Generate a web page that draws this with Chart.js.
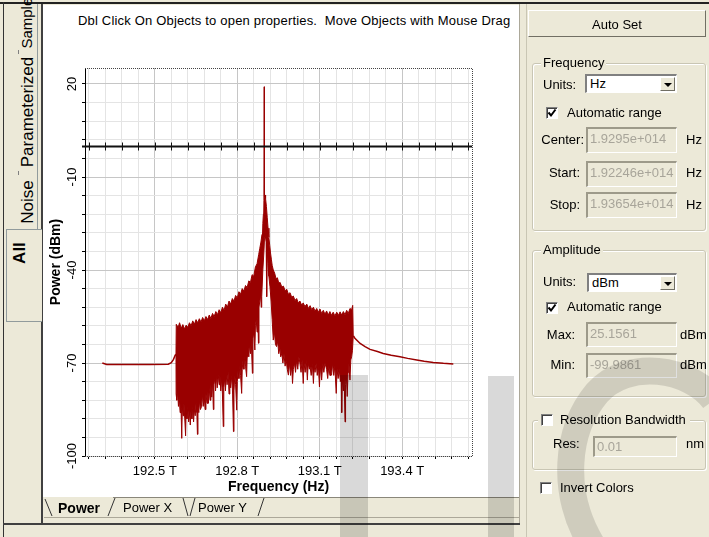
<!DOCTYPE html>
<html lang="en">
<head>
<meta charset="UTF-8">
<title>Optical Spectrum Analyzer</title>
<script src="https://cdn.jsdelivr.net/npm/chart.js"></script>
<style>
  body {
    margin: 0;
    width: 709px;
    height: 537px;
    overflow: hidden;
    position: relative;
    background: #ece9d8;
    font-family: "Liberation Sans", Arial, sans-serif;
    font-size: 13px;
    color: #000;
  }
  .abs { position: absolute; }
  .vt {
    position: absolute;
    height: 20px;
    line-height: 20px;
    text-align: center;
    white-space: nowrap;
    transform: rotate(-90deg);
    font-size: 17px;
  }
  .lbl { position: absolute; line-height: 16px; white-space: nowrap; }
  .group {
    position: absolute;
    border: 1px solid #c9c6b4;
    border-radius: 3px;
    box-shadow: inset 1px 1px 0 #fff, 1px 1px 0 #fff;
  }
  .legend {
    position: absolute;
    background: #ece9d8;
    padding: 0 2px;
    line-height: 16px;
  }
  .select {
    position: absolute;
    background: #fff;
    border-top: 2px solid #808080;
    border-left: 2px solid #808080;
    border-bottom: 1px solid #fff;
    border-right: 1px solid #fff;
    box-sizing: border-box;
    padding-left: 3px;
    line-height: 16px;
  }
  .select .btn {
    position: absolute;
    right: 1px; top: 1px; bottom: 1px;
    width: 15px;
    background: #ece9d8;
    border: 1px solid;
    border-color: #fff #716f64 #716f64 #fff;
    box-sizing: border-box;
  }
  .select .btn::after {
    content: "";
    position: absolute;
    left: 3px; top: 5px;
    border-left: 4px solid transparent;
    border-right: 4px solid transparent;
    border-top: 4px solid #000;
  }
  .field {
    position: absolute;
    box-sizing: border-box;
    border-top: 2px solid #9d9a8a;
    border-left: 2px solid #9d9a8a;
    border-bottom: 1px solid #fff;
    border-right: 1px solid #fff;
    color: #a8a59a;
    padding: 2px 0 0 2px;
    line-height: 16px;
  }
  .check {
    position: absolute;
    width: 12px; height: 12px;
    background: #fff;
    box-sizing: border-box;
    border-top: 1px solid #808080;
    border-left: 1px solid #808080;
    border-bottom: 1px solid #fff;
    border-right: 1px solid #fff;
    box-shadow: inset 1px 1px 0 #404040;
  }
  #plotPanel {
    left: 43px; top: 5px; width: 476px; height: 492px;
    background: #fff;
  }
  #chartBox { left: 44px; top: 8px; width: 476px; height: 489px; }
</style>
</head>
<body>
  <!-- window frame lines -->
  <div class="abs" style="left:0;top:2px;width:709px;height:2px;background:#222"></div>
  <div class="abs" style="left:3px;top:2px;width:1px;height:535px;background:#333"></div>
  <div class="abs" id="plotPanel"></div>
  <div class="abs" style="left:41px;top:4px;width:2px;height:521px;background:#404040"></div>
  <div class="abs" style="left:37px;top:4px;width:1px;height:225px;background:#919b9c"></div>
  <div class="abs" style="left:519px;top:4px;width:1px;height:521px;background:#aca899"></div>
  <div class="abs" style="left:526px;top:4px;width:1px;height:533px;background:#c9c6b4"></div>

  <!-- left vertical tabs -->
  <div class="abs" style="left:6px;top:229px;width:35px;height:91px;border:1px solid #919b9c;border-right:none;background:#ece9d8"></div>
  <div class="vt" style="left:-8px;top:9px;width:70px;font-size:15px">Sampled</div>
  <div class="vt" style="left:-32px;top:102px;width:120px">Parameterized</div>
  <div class="vt" style="left:-2px;top:192px;width:60px">Noise</div>
  <div class="vt" style="left:-10px;top:243px;width:60px;font-weight:bold">All</div>
  <div class="abs" style="left:18px;top:50px;width:1px;height:4px;background:#808080"></div>
  <div class="abs" style="left:18px;top:171px;width:1px;height:4px;background:#808080"></div>

  <div class="lbl" style="left:78px;top:13px;white-space:pre;letter-spacing:0.18px">Dbl Click On Objects to open properties.  Move Objects with Mouse Drag</div>

  <div class="abs" id="chartBox"><canvas id="spectrumChart"></canvas></div>

  <!-- bottom tabs -->
  <svg class="abs" style="left:0;top:0" width="709" height="537">
    <line x1="113" y1="497.5" x2="519" y2="497.5" stroke="#8a877a" />
    <line x1="44" y1="517.5" x2="519" y2="517.5" stroke="#aca899" />
    <line x1="3" y1="524" x2="520" y2="524" stroke="#404040" stroke-width="2" />
    <line x1="45" y1="499" x2="52" y2="516" stroke="#333" />
    <line x1="108" y1="516" x2="115" y2="498" stroke="#333" />
    <line x1="183" y1="498" x2="188" y2="516" stroke="#333" />
    <line x1="190" y1="516" x2="195" y2="498" stroke="#333" />
    <line x1="258" y1="516" x2="264" y2="498" stroke="#333" />
  </svg>
  <div class="lbl" style="left:58px;top:500px;font-weight:bold;font-size:14px">Power</div>
  <div class="lbl" style="left:123px;top:500px">Power X</div>
  <div class="lbl" style="left:198px;top:500px">Power Y</div>

  <!-- right control panel -->
  <div class="abs" style="left:528px;top:10px;width:178px;height:27px;box-sizing:border-box;border:1px solid;border-color:#fff #716f64 #716f64 #fff;text-align:center;line-height:27px">Auto Set</div>

  <div class="group" style="left:532px;top:63px;width:172px;height:166px"></div>
  <div class="legend" style="left:541px;top:55px">Frequency</div>
  <div class="lbl" style="left:543px;top:77px">Units:</div>
  <div class="select" style="left:585px;top:74px;width:92px;height:19px">Hz<div class="btn"></div></div>
  <div class="check" style="left:546px;top:107px">
    <svg width="10" height="10" style="position:absolute;left:0;top:0"><polyline points="1.5,4.5 4,7.5 8.5,1.5" fill="none" stroke="#000" stroke-width="2"/></svg>
  </div>
  <div class="lbl" style="left:567px;top:105px">Automatic range</div>
  <div class="lbl" style="left:525px;top:132px;width:59px;text-align:right">Center:</div>
  <div class="field" style="left:586px;top:127px;width:91px;height:26px">1.9295e+014</div>
  <div class="lbl" style="left:686px;top:132px">Hz</div>
  <div class="lbl" style="left:525px;top:165px;width:55px;text-align:right">Start:</div>
  <div class="field" style="left:586px;top:161px;width:91px;height:26px">1.92246e+014</div>
  <div class="lbl" style="left:686px;top:165px">Hz</div>
  <div class="lbl" style="left:525px;top:197px;width:55px;text-align:right">Stop:</div>
  <div class="field" style="left:586px;top:192px;width:91px;height:26px">1.93654e+014</div>
  <div class="lbl" style="left:686px;top:197px">Hz</div>

  <div class="group" style="left:532px;top:250px;width:172px;height:145px"></div>
  <div class="legend" style="left:541px;top:242px">Amplitude</div>
  <div class="lbl" style="left:543px;top:274px">Units:</div>
  <div class="select" style="left:587px;top:273px;width:90px;height:19px">dBm<div class="btn"></div></div>
  <div class="check" style="left:546px;top:302px">
    <svg width="10" height="10" style="position:absolute;left:0;top:0"><polyline points="1.5,4.5 4,7.5 8.5,1.5" fill="none" stroke="#000" stroke-width="2"/></svg>
  </div>
  <div class="lbl" style="left:567px;top:299px">Automatic range</div>
  <div class="lbl" style="left:525px;top:327px;width:50px;text-align:right">Max:</div>
  <div class="field" style="left:586px;top:322px;width:91px;height:25px">25.1561</div>
  <div class="lbl" style="left:680px;top:327px">dBm</div>
  <div class="lbl" style="left:525px;top:357px;width:50px;text-align:right">Min:</div>
  <div class="field" style="left:586px;top:353px;width:91px;height:25px">-99.9861</div>
  <div class="lbl" style="left:680px;top:357px">dBm</div>

  <div class="group" style="left:532px;top:420px;width:172px;height:48px"></div>
  <div class="abs" style="left:538px;top:412px;width:152px;height:16px;background:#ece9d8"></div>
  <div class="check" style="left:541px;top:414px"></div>
  <div class="lbl" style="left:560px;top:412px">Resolution Bandwidth</div>
  <div class="lbl" style="left:553px;top:436px">Res:</div>
  <div class="field" style="left:593px;top:436px;width:84px;height:21px;padding-top:1px">0.01</div>
  <div class="lbl" style="left:686px;top:436px">nm</div>

  <div class="check" style="left:540px;top:482px"></div>
  <div class="lbl" style="left:560px;top:480px">Invert Colors</div>

  <!-- faint watermark strokes -->
  <svg class="abs" style="left:0;top:0;pointer-events:none" width="709" height="537">
    <rect x="340" y="375" width="28" height="162" fill="rgba(0,0,0,0.15)" />
    <rect x="488" y="376" width="26" height="161" fill="rgba(0,0,0,0.15)" />
    <path d="M 714 400 C 690 368, 628 358, 597 393 C 566 430, 560 492, 592 545" fill="none" stroke="rgba(0,0,0,0.12)" stroke-width="27" />
  </svg>

<script>
  // frequencies in THz, power in dBm
  const leftFreq = [192.309, 192.325, 192.400, 192.480, 192.549, 192.560, 192.568, 192.574, 192.577];
  const leftPow  = [-70.0, -70.5, -70.5, -70.5, -70.4, -69.9, -68.8, -67.5, -67.0];

  const upperFreq = [
    192.577, 192.578, 192.585, 192.590, 192.596, 192.602, 192.608, 192.614, 192.620, 192.626,
    192.632, 192.638, 192.644, 192.650, 192.656, 192.662, 192.668, 192.674, 192.680, 192.686,
    192.692, 192.698, 192.704, 192.710, 192.716, 192.722, 192.728, 192.734, 192.740, 192.746,
    192.752, 192.758, 192.764, 192.770, 192.776, 192.782, 192.788, 192.794, 192.800, 192.806,
    192.812, 192.818, 192.824, 192.830, 192.836, 192.842, 192.848, 192.854, 192.860, 192.866,
    192.872, 192.878, 192.882, 192.886, 192.890, 192.893, 192.895, 192.897, 192.898, 192.899,
    192.901, 192.903, 192.906, 192.909, 192.912, 192.915, 192.918, 192.921, 192.924, 192.927,
    192.931, 192.936, 192.941, 192.946, 192.951, 192.956, 192.962, 192.968, 192.974, 192.980,
    192.986, 192.992, 192.998, 193.004, 193.010, 193.016, 193.022, 193.028, 193.034, 193.040,
    193.046, 193.053, 193.059, 193.065, 193.071, 193.077, 193.083, 193.089, 193.095, 193.101,
    193.107, 193.113, 193.119, 193.125, 193.131, 193.137, 193.143, 193.149, 193.155, 193.162,
    193.168, 193.174, 193.180, 193.186, 193.192, 193.198, 193.204, 193.210, 193.216, 193.220,
    193.222
  ];
  const upperPow = [
    -67.0, -57.5, -58.5, -57.0, -58.8, -57.6, -59.0, -57.8, -58.5, -57.0,
    -58.0, -56.4, -57.5, -56.0, -57.0, -55.7, -56.8, -55.3, -56.4, -55.0,
    -56.0, -54.5, -55.6, -54.0, -55.0, -53.4, -54.4, -52.8, -53.8, -52.0,
    -53.0, -51.0, -52.0, -50.0, -51.0, -49.2, -50.0, -48.2, -49.0, -47.0,
    -47.8, -46.0, -46.8, -45.0, -45.6, -43.5, -44.0, -41.5, -42.0, -39.0,
    -38.0, -35.0, -33.0, -31.0, -28.5, -25.0, -22.0, -17.5, 19.1, -16.5,
    -15.8, -17.0, -19.5, -23.0, -26.5, -29.5, -32.0, -34.5, -36.5, -38.5,
    -40.0, -41.0, -42.8, -42.5, -44.2, -44.0, -45.5, -45.2, -46.7, -46.2,
    -47.8, -47.3, -48.8, -48.4, -49.8, -49.2, -50.6, -50.0, -51.3, -50.6,
    -51.8, -51.0, -52.4, -51.5, -52.8, -52.0, -53.3, -52.4, -53.6, -52.6,
    -54.0, -53.0, -54.3, -53.2, -54.5, -53.4, -54.6, -53.6, -54.8, -53.6,
    -54.6, -53.5, -54.5, -53.4, -54.4, -53.0, -54.0, -52.4, -52.8, -51.4,
    -61.2
  ];

  const lowerFreq = [
    192.577, 192.5775, 192.580, 192.583, 192.586, 192.589, 192.592, 192.595, 192.598, 192.600,
    192.603, 192.606, 192.609, 192.612, 192.614, 192.617, 192.620, 192.623, 192.626, 192.629,
    192.632, 192.635, 192.638, 192.641, 192.644, 192.647, 192.650, 192.653, 192.655, 192.657,
    192.660, 192.663, 192.666, 192.670, 192.673, 192.676, 192.680, 192.683, 192.686, 192.690,
    192.693, 192.695, 192.698, 192.701, 192.704, 192.707, 192.710, 192.713, 192.715, 192.718,
    192.721, 192.724, 192.727, 192.731, 192.734, 192.737, 192.740, 192.743, 192.746, 192.749,
    192.751, 192.754, 192.757, 192.760, 192.763, 192.767, 192.770, 192.773, 192.776, 192.780,
    192.783, 192.786, 192.788, 192.791, 192.794, 192.798, 192.800, 192.803, 192.806, 192.809,
    192.812, 192.816, 192.818, 192.821, 192.824, 192.827, 192.830, 192.834, 192.836, 192.839,
    192.842, 192.845, 192.848, 192.851, 192.855, 192.857, 192.860, 192.864, 192.866, 192.869,
    192.872, 192.875, 192.877, 192.879, 192.882, 192.885, 192.887, 192.889, 192.893, 192.897,
    192.899, 192.902, 192.905, 192.907, 192.909, 192.912, 192.915, 192.919, 192.923, 192.927,
    192.931, 192.935, 192.939, 192.943, 192.947, 192.951, 192.955, 192.958, 192.962, 192.966,
    192.970, 192.974, 192.978, 192.982, 192.986, 192.990, 192.994, 192.998, 193.001, 193.004,
    193.008, 193.012, 193.016, 193.020, 193.024, 193.028, 193.032, 193.036, 193.040, 193.043,
    193.047, 193.051, 193.055, 193.058, 193.062, 193.065, 193.069, 193.073, 193.077, 193.080,
    193.083, 193.087, 193.091, 193.095, 193.099, 193.102, 193.107, 193.111, 193.115, 193.119,
    193.125, 193.129, 193.133, 193.137, 193.143, 193.147, 193.151, 193.155, 193.160, 193.163,
    193.167, 193.171, 193.175, 193.178, 193.180, 193.182, 193.186, 193.189, 193.192, 193.194,
    193.197, 193.200, 193.203, 193.206, 193.210, 193.213, 193.216, 193.219, 193.222
  ];
  const lowerPow = [
    -67.0, -80.0, -82.0, -79.0, -84.0, -81.0, -86.0, -83.0, -94.3, -84.0,
    -87.0, -83.0, -88.0, -93.5, -85.0, -88.0, -84.0, -89.0, -86.0, -90.0,
    -85.0, -88.0, -84.0, -89.0, -85.0, -87.0, -83.0, -86.0, -93.0, -84.0,
    -86.0, -82.0, -85.0, -84.0, -80.0, -84.0, -81.0, -85.0, -80.0, -83.0,
    -79.0, -83.0, -78.0, -82.0, -77.0, -81.0, -76.0, -85.0, -77.0, -75.0,
    -79.0, -74.0, -78.0, -73.9, -77.0, -74.0, -79.0, -75.0, -80.0, -90.5,
    -78.0, -75.0, -79.0, -74.0, -77.0, -73.0, -80.0, -75.0, -78.0, -74.0,
    -80.0, -92.1, -79.0, -74.0, -77.0, -85.2, -76.0, -72.0, -75.0, -71.0,
    -74.0, -79.8, -72.0, -69.0, -72.0, -68.0, -71.0, -74.4, -68.0, -65.0,
    -68.0, -64.0, -67.0, -63.0, -73.3, -62.0, -60.0, -65.8, -58.0, -56.0,
    -60.0, -55.0, -63.6, -52.0, -50.0, -48.0, -52.0, -48.6, -40.0, -34.0,
    -30.0, -29.0, -31.0, -48.6, -34.0, -38.0, -42.0, -45.4, -50.0, -56.0,
    -62.6, -60.0, -64.0, -64.7, -63.0, -67.0, -65.0, -68.0, -66.9, -70.0,
    -67.0, -71.0, -69.0, -72.0, -73.9, -70.0, -74.0, -71.0, -76.6, -72.0,
    -70.0, -73.0, -69.0, -72.0, -68.0, -70.1, -73.0, -69.0, -76.6, -70.0,
    -73.0, -69.0, -75.5, -70.0, -72.0, -71.2, -74.0, -70.0, -76.6, -71.0,
    -73.0, -70.0, -74.0, -71.0, -77.7, -71.0, -75.5, -70.0, -73.0, -70.0,
    -72.0, -75.0, -71.0, -74.0, -73.9, -70.0, -74.0, -71.0, -79.8, -72.0,
    -75.0, -72.0, -76.0, -74.0, -86.0, -75.0, -79.0, -75.0, -89.0, -77.0,
    -74.0, -80.8, -73.0, -70.0, -75.5, -69.0, -68.0, -66.0, -61.2
  ];

  const tailFreq = [193.222, 193.228, 193.237, 193.247, 193.265, 193.283, 193.310, 193.331,
                    193.360, 193.392, 193.420, 193.453, 193.480, 193.513, 193.550, 193.586];
  const tailPow  = [-61.2, -62.0, -62.8, -63.7, -64.7, -65.6, -66.3, -66.9,
                    -67.5, -68.0, -68.5, -69.0, -69.4, -69.8, -70.1, -70.3];

  const freqMin = 192.246, freqMax = 193.654;
  const powMin = -99.9861, powMax = 25.1561;
  const xTickValues = [192.5, 192.8, 193.1, 193.4];
  const xTickLabels = ['192.5 T', '192.8 T', '193.1 T', '193.4 T'];
  const yTickValues = [20, -10, -40, -70, -100];
  const yTickLabels = ['20', '-10', '-40', '-70', '-100'];
  const xMinorStep = 0.06, yMinorStep = 6;
  const markerLevel = 0;
  const traceColor = '#990000';

  const pts = (xs, ys) => xs.map((x, i) => ({ x: x, y: ys[i] }));
  const near = (list, v, eps) => list.findIndex(t => Math.abs(t - v) < eps);

  Chart.defaults.font.family = '"Liberation Sans", Arial, sans-serif';
  Chart.defaults.color = '#000';

  // dotted frame, 0 dBm marker line and rotated y labels
  const framePlugin = {
    id: 'frame',
    afterDraw(chart) {
      const { ctx, chartArea: a, scales: { x, y } } = chart;
      ctx.save();
      ctx.strokeStyle = '#444';
      ctx.lineWidth = 1;
      ctx.setLineDash([1, 1]);
      ctx.beginPath();
      ctx.moveTo(a.left, a.top + 0.5);
      ctx.lineTo(a.right + 0.5, a.top + 0.5);
      ctx.lineTo(a.right + 0.5, a.bottom + 0.5);
      ctx.lineTo(a.left, a.bottom + 0.5);
      ctx.stroke();
      ctx.setLineDash([]);

      const my = Math.round(y.getPixelForValue(markerLevel)) + 0.5;
      ctx.strokeStyle = '#111';
      ctx.lineWidth = 2;
      ctx.beginPath();
      ctx.moveTo(a.left - 3, my);
      ctx.lineTo(a.right, my);
      ctx.stroke();
      ctx.lineWidth = 1;
      ctx.beginPath();
      x.ticks.forEach(t => {
        const px = Math.round(x.getPixelForValue(t.value)) + 0.5;
        ctx.moveTo(px, my - 4);
        ctx.lineTo(px, my + 4);
      });
      ctx.stroke();

      ctx.fillStyle = '#000';
      ctx.font = '13px "Liberation Sans", Arial, sans-serif';
      ctx.textAlign = 'center';
      ctx.textBaseline = 'middle';
      yTickValues.forEach((v, i) => {
        ctx.save();
        ctx.translate(a.left - 13, y.getPixelForValue(v));
        ctx.rotate(-Math.PI / 2);
        ctx.fillText(yTickLabels[i], 0, 0);
        ctx.restore();
      });
      ctx.restore();
    }
  };

  const ctx = document.getElementById('spectrumChart').getContext('2d');
  new Chart(ctx, {
    type: 'line',
    data: {
      datasets: [
        { data: pts(upperFreq, upperPow), borderColor: traceColor, borderWidth: 1, fill: false },
        { data: pts(lowerFreq, lowerPow), borderColor: traceColor, borderWidth: 1,
          backgroundColor: traceColor, fill: '-1' },
        { data: pts(leftFreq, leftPow), borderColor: traceColor, borderWidth: 1.5, fill: false },
        { data: pts(tailFreq, tailPow), borderColor: traceColor, borderWidth: 1.5, fill: false }
      ]
    },
    options: {
      responsive: true,
      maintainAspectRatio: false,
      animation: false,
      events: [],
      elements: { point: { radius: 0 }, line: { tension: 0 } },
      layout: { padding: { top: 60, right: 48, bottom: 0, left: 0 } },
      plugins: { legend: { display: false }, tooltip: { enabled: false } },
      scales: {
        x: {
          type: 'linear',
          min: freqMin,
          max: freqMax,
          afterBuildTicks: scale => {
            const start = xTickValues[0] - Math.floor((xTickValues[0] - freqMin) / xMinorStep) * xMinorStep;
            const ticks = [];
            for (let v = start; v <= freqMax; v += xMinorStep) ticks.push({ value: +v.toFixed(3) });
            scale.ticks = ticks;
          },
          afterFit: scale => { scale.height = 41; },
          ticks: {
            autoSkip: false,
            maxRotation: 0,
            padding: 5,
            font: { size: 13 },
            callback: v => { const i = near(xTickValues, v, 1e-4); return i >= 0 ? xTickLabels[i] : ''; }
          },
          grid: {
            color: c => (c.tick && near(xTickValues, c.tick.value, 1e-4) >= 0) ? '#c6c6c6' : '#e4e4e4',
            tickColor: '#000',
            tickLength: 3
          },
          border: { display: false },
          title: { display: true, text: 'Frequency (Hz)', font: { size: 14, weight: 'bold' }, padding: { top: 0, bottom: 1 } }
        },
        y: {
          min: powMin,
          max: powMax,
          afterBuildTicks: scale => {
            const ticks = [];
            for (let v = yTickValues[yTickValues.length - 1]; v <= powMax; v += yMinorStep) ticks.push({ value: v });
            scale.ticks = ticks;
          },
          afterFit: scale => { scale.width = 41; },
          ticks: { display: false },
          grid: {
            color: c => (c.tick && yTickValues.includes(c.tick.value)) ? '#c6c6c6' : '#e4e4e4',
            tickColor: '#000',
            tickLength: 3
          },
          border: { display: true, color: '#000', width: 1 },
          title: { display: true, text: 'Power (dBm)', font: { size: 14, weight: 'bold' }, padding: { top: 4, bottom: 0 } }
        }
      }
    },
    plugins: [framePlugin]
  });
</script>
</body>
</html>
